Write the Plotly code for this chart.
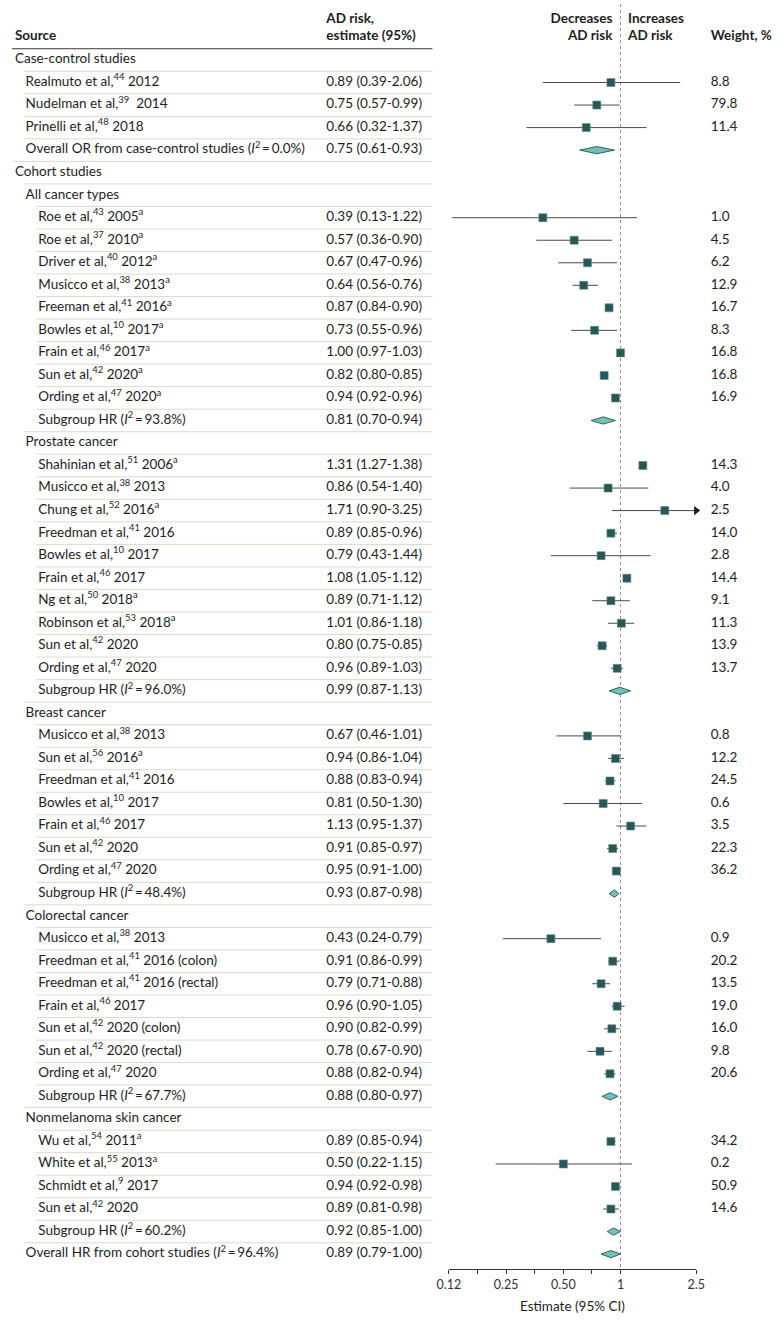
import math
import plotly.graph_objects as go

# ---------------- data ----------------
row_labels = [
    "Case-control studies",
    "Realmuto et al,<sup>44</sup> 2012",
    "Nudelman et al,<sup>39</sup>  2014",
    "Prinelli et al,<sup>48</sup> 2018",
    "Overall OR from case-control studies (<i>I</i><sup>2</sup>\u2009=\u20090.0%)",
    "Cohort studies",
    "All cancer types",
    "Roe et al,<sup>43</sup> 2005<sup>a</sup>",
    "Roe et al,<sup>37</sup> 2010<sup>a</sup>",
    "Driver et al,<sup>40</sup> 2012<sup>a</sup>",
    "Musicco et al,<sup>38</sup> 2013<sup>a</sup>",
    "Freeman et al,<sup>41</sup> 2016<sup>a</sup>",
    "Bowles et al,<sup>10</sup> 2017<sup>a</sup>",
    "Frain et al,<sup>46</sup> 2017<sup>a</sup>",
    "Sun et al,<sup>42</sup> 2020<sup>a</sup>",
    "Ording et al,<sup>47</sup> 2020<sup>a</sup>",
    "Subgroup HR (<i>I</i><sup>2</sup>\u2009=\u200993.8%)",
    "Prostate cancer",
    "Shahinian et al,<sup>51</sup> 2006<sup>a</sup>",
    "Musicco et al,<sup>38</sup> 2013",
    "Chung et al,<sup>52</sup> 2016<sup>a</sup>",
    "Freedman et al,<sup>41</sup> 2016",
    "Bowles et al,<sup>10</sup> 2017",
    "Frain et al,<sup>46</sup> 2017",
    "Ng et al,<sup>50</sup> 2018<sup>a</sup>",
    "Robinson et al,<sup>53</sup> 2018<sup>a</sup>",
    "Sun et al,<sup>42</sup> 2020",
    "Ording et al,<sup>47</sup> 2020",
    "Subgroup HR (<i>I</i><sup>2</sup>\u2009=\u200996.0%)",
    "Breast cancer",
    "Musicco et al,<sup>38</sup> 2013",
    "Sun et al,<sup>56</sup> 2016<sup>a</sup>",
    "Freedman et al,<sup>41</sup> 2016",
    "Bowles et al,<sup>10</sup> 2017",
    "Frain et al,<sup>46</sup> 2017",
    "Sun et al,<sup>42</sup> 2020",
    "Ording et al,<sup>47</sup> 2020",
    "Subgroup HR (<i>I</i><sup>2</sup>\u2009=\u200948.4%)",
    "Colorectal cancer",
    "Musicco et al,<sup>38</sup> 2013",
    "Freedman et al,<sup>41</sup> 2016 (colon)",
    "Freedman et al,<sup>41</sup> 2016 (rectal)",
    "Frain et al,<sup>46</sup> 2017",
    "Sun et al,<sup>42</sup> 2020 (colon)",
    "Sun et al,<sup>42</sup> 2020 (rectal)",
    "Ording et al,<sup>47</sup> 2020",
    "Subgroup HR (<i>I</i><sup>2</sup>\u2009=\u200967.7%)",
    "Nonmelanoma skin cancer",
    "Wu et al,<sup>54</sup> 2011<sup>a</sup>",
    "White et al,<sup>55</sup> 2013<sup>a</sup>",
    "Schmidt et al,<sup>9</sup> 2017",
    "Sun et al,<sup>42</sup> 2020",
    "Subgroup HR (<i>I</i><sup>2</sup>\u2009=\u200960.2%)",
    "Overall HR from cohort studies (<i>I</i><sup>2</sup>\u2009=\u200996.4%)",
]
row_levels = [0, 1, 1, 1, 1, 0, 1] + [2] * 10 + [1] + [2] * 11 + [1] + [2] * 8 + [1] + [2] * 8 + [1] + [2] * 5 + [1]
# kind: h = heading, s = study, d = pooled (diamond)
row_kinds = (["h", "s", "s", "s", "d", "h", "h"] + ["s"] * 9 + ["d"] + ["h"] + ["s"] * 10 + ["d"]
             + ["h"] + ["s"] * 7 + ["d"] + ["h"] + ["s"] * 7 + ["d"] + ["h"] + ["s"] * 4 + ["d", "d"])

estimate = [None, 0.89, 0.75, 0.66, 0.75, None, None,
            0.39, 0.57, 0.67, 0.64, 0.87, 0.73, 1.00, 0.82, 0.94, 0.81,
            None, 1.31, 0.86, 1.71, 0.89, 0.79, 1.08, 0.89, 1.01, 0.80, 0.96, 0.99,
            None, 0.67, 0.94, 0.88, 0.81, 1.13, 0.91, 0.95, 0.93,
            None, 0.43, 0.91, 0.79, 0.96, 0.90, 0.78, 0.88, 0.88,
            None, 0.89, 0.50, 0.94, 0.89, 0.92, 0.89]
ci_low = [None, 0.39, 0.57, 0.32, 0.61, None, None,
          0.13, 0.36, 0.47, 0.56, 0.84, 0.55, 0.97, 0.80, 0.92, 0.70,
          None, 1.27, 0.54, 0.90, 0.85, 0.43, 1.05, 0.71, 0.86, 0.75, 0.89, 0.87,
          None, 0.46, 0.86, 0.83, 0.50, 0.95, 0.85, 0.91, 0.87,
          None, 0.24, 0.86, 0.71, 0.90, 0.82, 0.67, 0.82, 0.80,
          None, 0.85, 0.22, 0.92, 0.81, 0.85, 0.79]
ci_high = [None, 2.06, 0.99, 1.37, 0.93, None, None,
           1.22, 0.90, 0.96, 0.76, 0.90, 0.96, 1.03, 0.85, 0.96, 0.94,
           None, 1.38, 1.40, 3.25, 0.96, 1.44, 1.12, 1.12, 1.18, 0.85, 1.03, 1.13,
           None, 1.01, 1.04, 0.94, 1.30, 1.37, 0.97, 1.00, 0.98,
           None, 0.79, 0.99, 0.88, 1.05, 0.99, 0.90, 0.94, 0.97,
           None, 0.94, 1.15, 0.98, 0.98, 1.00, 1.00]
weights = [None, 8.8, 79.8, 11.4, None, None, None,
           1.0, 4.5, 6.2, 12.9, 16.7, 8.3, 16.8, 16.8, 16.9, None,
           None, 14.3, 4.0, 2.5, 14.0, 2.8, 14.4, 9.1, 11.3, 13.9, 13.7, None,
           None, 0.8, 12.2, 24.5, 0.6, 3.5, 22.3, 36.2, None,
           None, 0.9, 20.2, 13.5, 19.0, 16.0, 9.8, 20.6, None,
           None, 34.2, 0.2, 50.9, 14.6, None, None]

x_tick_vals = [0.125, 0.125 * 2 ** 0.5, 0.25, 0.25 * 2 ** 0.5, 0.5, 0.5 * 2 ** 0.5, 1, 2.5]
x_tick_text = ["0.12", "", "0.25", "", "0.50", "", "1", "2.5"]
x_min, x_max = 0.125, 2.5

# ---------------- geometry ----------------
W, H = 783, 1324
ROW_PX = 22.53          # pixels per row
ROW0_PX = 37.47         # pixel y of row index 0
AXIS_PX = 1269          # pixel y of the x axis line
X0_PX, X1_PX = 449, 703  # forest panel horizontal extent
TEXT_END_PX = 432
INDENT = {0: 3, 1: 14, 2: 27}
EST_X = 323
WT_X = 718
FS = 13.5

FONT = "Lato"
TXT = "#1e1e1e"
MARK = "#285855"
DIAM_FILL = "#74c1bb"
DIAM_LINE = "#2f625f"


def row_of_px(px):
    return (px - ROW0_PX) / ROW_PX


rows = list(range(1, len(row_labels) + 1))

fig = go.Figure()

# reference line at 1
fig.add_trace(go.Scatter(x=[1, 1], y=[row_of_px(4), row_of_px(AXIS_PX)], mode="lines",
                         line=dict(color="#8a8a8a", width=1, dash="dot"),
                         hoverinfo="skip", showlegend=False))

# confidence intervals for studies
cx, cy = [], []
ax_, ay_ = [], []
for r, k, lo, hi in zip(rows, row_kinds, ci_low, ci_high):
    if k != "s":
        continue
    cx += [max(lo, x_min), min(hi, x_max), None]
    cy += [r, r, None]
    if hi > x_max:
        ax_.append(x_max)
        ay_.append(r)
fig.add_trace(go.Scatter(x=cx, y=cy, mode="lines", line=dict(color="#4a4a4a", width=1),
                         hoverinfo="skip", showlegend=False))
fig.add_trace(go.Scatter(x=ax_, y=ay_, mode="markers",
                         marker=dict(symbol="triangle-right", size=8, color="#1a1a1a"),
                         cliponaxis=False, hoverinfo="skip", showlegend=False))

# study squares
sx = [e for e, k in zip(estimate, row_kinds) if k == "s"]
sy = [r for r, k in zip(rows, row_kinds) if k == "s"]
fig.add_trace(go.Scatter(x=sx, y=sy, mode="markers",
                         marker=dict(symbol="square", size=8, color=MARK,
                                     line=dict(color="#5f8c89", width=0.6)),
                         hoverinfo="skip", showlegend=False))

# pooled diamonds
HALF = 0.16
dx, dy = [], []
for r, k, e, lo, hi in zip(rows, row_kinds, estimate, ci_low, ci_high):
    if k != "d":
        continue
    dx += [lo, e, hi, e, lo, None]
    dy += [r, r - HALF, r, r + HALF, r, None]
fig.add_trace(go.Scatter(x=dx, y=dy, mode="lines", fill="toself", fillcolor=DIAM_FILL,
                         line=dict(color=DIAM_LINE, width=1),
                         hoverinfo="skip", showlegend=False))

# ---------- text columns (drawn on a pixel-unit helper x axis) ----------
text_items = {"left": ([], [], []), "right": ([], [], [])}
bold_items = {"left": ([], [], []), "right": ([], [], [])}


def put(x_px, y, text, anchor="left", bold=False):
    store = bold_items if bold else text_items
    xs, ys, ts = store[anchor]
    xs.append(x_px)
    ys.append(y)
    ts.append(("<b>%s</b>" % text) if bold else text)


put(3, row_of_px(37), "Source", bold=True)
put(EST_X, row_of_px(20), "AD risk,", bold=True)
put(EST_X, row_of_px(37), "estimate (95%)", bold=True)
put(617, row_of_px(20), "Decreases", anchor="right", bold=True)
put(617, row_of_px(37), "AD risk", anchor="right", bold=True)
put(633, row_of_px(20), "Increases", bold=True)
put(633, row_of_px(37), "AD risk", bold=True)
put(WT_X, row_of_px(37), "Weight, %", bold=True)

shapes = [dict(type="line", xref="paper", yref="y", x0=0, x1=TEXT_END_PX / W,
               y0=0.5, y1=0.5, line=dict(color="#3a3a3a", width=1))]

for r, lab, lev, k, e, lo, hi, w in zip(rows, row_labels, row_levels, row_kinds,
                                        estimate, ci_low, ci_high, weights):
    put(INDENT[lev], r, lab)
    if e is not None:
        put(EST_X, r, "%.2f (%.2f-%.2f)" % (e, lo, hi))
    if w is not None:
        put(WT_X, r, "%.1f" % w)
    if r > 1:
        shapes.append(dict(type="line", xref="paper", yref="y",
                           x0=max(INDENT[lev] - 2, 0) / W, x1=TEXT_END_PX / W,
                           y0=r - 0.5, y1=r - 0.5, line=dict(color="#dcd9cf", width=1)))

for store in (text_items, bold_items):
    for anchor, (xs, ys, ts) in store.items():
        if not xs:
            continue
        fig.add_trace(go.Scatter(
            x=xs, y=ys, text=ts, mode="text", xaxis="x2", yaxis="y",
            textposition="middle right" if anchor == "left" else "middle left",
            textfont=dict(family=FONT, size=FS, color=TXT),
            cliponaxis=False, hoverinfo="skip", showlegend=False))

# axis title
annotations = [dict(x=(X0_PX + X1_PX) / 2 / W, xref="paper", y=1 - 1306 / H, yref="paper",
                    text="Estimate (95% CI)", showarrow=False, xanchor="center", yanchor="middle",
                    font=dict(family=FONT, size=FS, color=TXT))]

fig.update_layout(
    width=W, height=H, margin=dict(l=0, r=0, t=0, b=0),
    paper_bgcolor="white", plot_bgcolor="rgba(0,0,0,0)",
    showlegend=False, annotations=annotations, shapes=shapes,
    xaxis=dict(type="log", domain=[X0_PX / W, X1_PX / W],
               range=[math.log10(x_min), math.log10(x_max)],
               tickvals=x_tick_vals, ticktext=x_tick_text, ticks="outside", ticklen=4,
               tickcolor="#333", showline=True, linecolor="#333", linewidth=1,
               showgrid=False, zeroline=False, tickfont=dict(family=FONT, size=12.5, color="#333"),
               fixedrange=True),
    xaxis2=dict(domain=[0, 1], range=[0, W], anchor="y", visible=False, fixedrange=True),
    yaxis=dict(domain=[(H - AXIS_PX) / H, 1],
               range=[row_of_px(AXIS_PX), row_of_px(0)], anchor="x",
               showgrid=False, zeroline=False, showticklabels=False, showline=False,
               fixedrange=True),
)

fig.write_html("out.html", config={"displayModeBar": False},
               post_script="document.body.style.margin='0';document.body.style.padding='0';"
                           "document.body.style.overflow='hidden';")
